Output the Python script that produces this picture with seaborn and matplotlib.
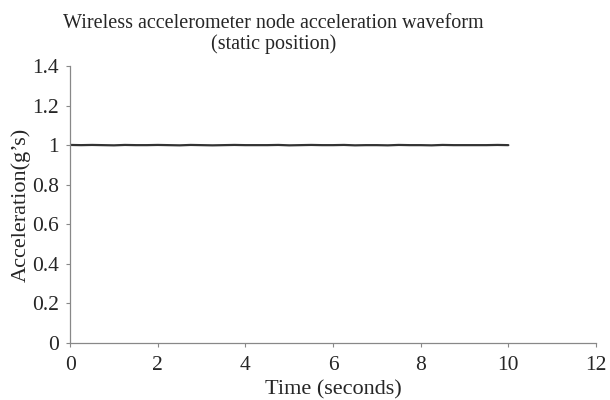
import matplotlib
matplotlib.use("Agg")
import matplotlib.pyplot as plt
import seaborn as sns
import pandas as pd

# Static-position acceleration readings (g's)
time_s = [0.0, 0.25, 0.5, 0.75, 1.0, 1.25, 1.5, 1.75, 2.0, 2.25, 2.5, 2.75,
          3.0, 3.25, 3.5, 3.75, 4.0, 4.25, 4.5, 4.75, 5.0, 5.25, 5.5, 5.75,
          6.0, 6.25, 6.5, 6.75, 7.0, 7.25, 7.5, 7.75, 8.0, 8.25, 8.5, 8.75,
          9.0, 9.25, 9.5, 9.75, 10.0]
accel_g = [1.001, 1.000, 1.001, 1.000, 0.999, 1.001, 1.000, 1.000, 1.001, 1.000,
           0.999, 1.001, 1.000, 0.999, 1.000, 1.001, 1.000, 1.000, 1.000, 1.001,
           0.999, 1.000, 1.001, 1.000, 1.000, 1.001, 0.999, 1.000, 1.000, 0.999,
           1.001, 1.000, 1.000, 0.999, 1.001, 1.000, 1.000, 1.000, 1.000, 1.001,
           1.000]

x_ticks = [0, 2, 4, 6, 8, 10, 12]
y_ticks = [0, 0.2, 0.4, 0.6, 0.8, 1, 1.2, 1.4]
y_labels = ["0", "0.2", "0.4", "0.6", "0.8", "1", "1.2", "1.4"]

sns.set_style("white")
plt.rcParams['font.family'] = ['Liberation Serif', 'DejaVu Serif']

df = pd.DataFrame({"Time": time_s, "Acceleration": accel_g})

fig = plt.figure(figsize=(6.1, 4.0), dpi=100)
ax = fig.add_axes([0.115, 0.1425, 0.862, 0.6925])
sns.lineplot(data=df, x="Time", y="Acceleration", ax=ax, color="#333333", linewidth=1.6)

ax.set_xlim(0, 12)
ax.set_ylim(0, 1.4)
ax.set_xticks(x_ticks)
ax.set_yticks(y_ticks)
ax.set_yticklabels(y_labels)
ax.tick_params(axis="both", labelsize=15.5, direction="out", length=3, width=0.8,
               color="#888888", left=True, bottom=True)
ax.tick_params(axis="y", pad=5)
ax.tick_params(axis="x", pad=6)
for side in ["top", "right"]:
    ax.spines[side].set_visible(False)
for side in ["left", "bottom"]:
    ax.spines[side].set_color("#888888")
    ax.spines[side].set_linewidth(0.9)

ax.set_xlabel("Time (seconds)", fontsize=16, labelpad=4)
ax.set_ylabel("Acceleration(g’s)", fontsize=16, labelpad=1)
fig.text(0.448, 0.965, "Wireless accelerometer node acceleration waveform\n(static position)",
         ha="center", va="top", fontsize=14.5, linespacing=1.08)

fig.savefig("out.png", dpi=100)
